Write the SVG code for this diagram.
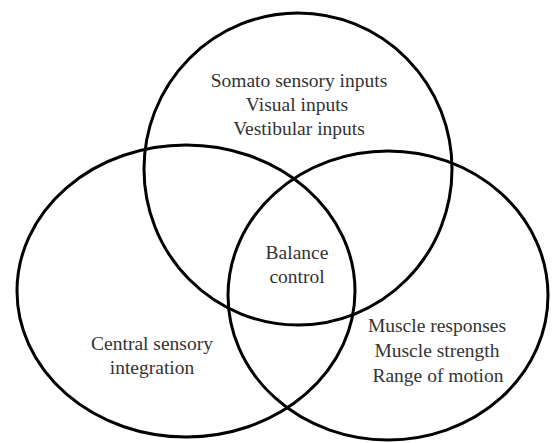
<svg xmlns="http://www.w3.org/2000/svg" width="553" height="443" viewBox="0 0 553 443">
<style>
.c{fill:none;stroke:#000;stroke-width:3}
.t{font-family:"Liberation Serif","Times New Roman",serif;font-size:19.5px;fill:#333;text-anchor:middle}
</style>
<rect width="553" height="443" fill="#fff"/>
<g id="top-circle">
<ellipse class="c" cx="298" cy="169" rx="154" ry="156"/>
<text class="t" x="299" y="87">Somato sensory inputs</text>
<text class="t" x="297" y="111">Visual inputs</text>
<text class="t" x="299" y="135">Vestibular inputs</text>
</g>
<g id="left-circle">
<ellipse class="c" cx="186" cy="291" rx="169" ry="146"/>
<text class="t" x="152" y="350">Central sensory</text>
<text class="t" x="152" y="374">integration</text>
</g>
<g id="right-circle">
<ellipse class="c" cx="388" cy="295.5" rx="160" ry="144.5"/>
<text class="t" x="437" y="332">Muscle responses</text>
<text class="t" x="437" y="357">Muscle strength</text>
<text class="t" x="438" y="382">Range of motion</text>
</g>
<g id="center">
<text class="t" x="297" y="259">Balance</text>
<text class="t" x="297" y="283">control</text>
</g>
<g id="connectors"></g>
</svg>
